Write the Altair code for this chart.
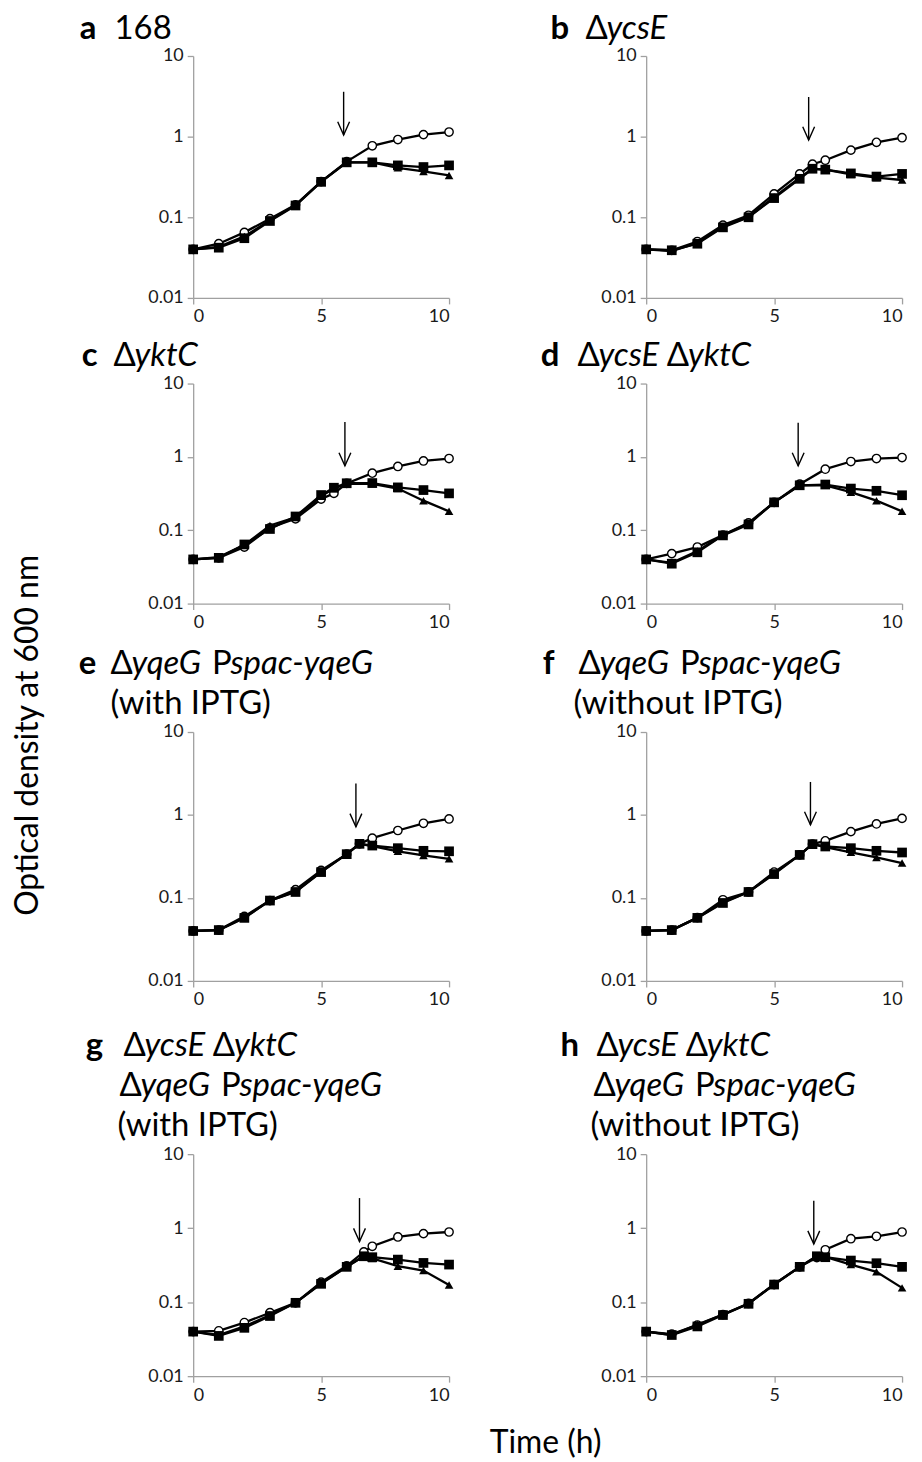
import altair as alt
import pandas as pd

# ---------------- data ----------------
t_a = [0, 1, 2, 3, 4, 5, 6, 7, 8, 9, 10]
open_a = [0.040, 0.047, 0.065, 0.096, 0.143, 0.277, 0.49, 0.77, 0.92, 1.06, 1.14]
sq_a = [0.040, 0.042, 0.055, 0.090, 0.140, 0.275, 0.48, 0.48, 0.44, 0.42, 0.44]
tri_a = [0.040, 0.043, 0.058, 0.092, 0.142, 0.277, 0.48, 0.48, 0.41, 0.37, 0.33]

t_b = [0, 1, 2, 3, 4, 5, 6, 6.5, 7, 8, 9, 10]
open_b = [0.040, 0.039, 0.050, 0.080, 0.106, 0.195, 0.345, 0.455, 0.51, 0.68, 0.85, 0.97]
sq_b = [0.040, 0.039, 0.047, 0.075, 0.100, 0.173, 0.30, 0.40, 0.39, 0.35, 0.32, 0.345]
tri_b = [0.040, 0.038, 0.048, 0.077, 0.101, 0.178, 0.31, 0.40, 0.39, 0.34, 0.31, 0.29]

t_c = [0, 1, 2, 3, 4, 5, 5.5, 6, 7, 8, 9, 10]
open_c = [0.040, 0.042, 0.059, 0.108, 0.143, 0.266, 0.318, 0.435, 0.60, 0.74, 0.88, 0.95]
sq_c = [0.040, 0.042, 0.064, 0.104, 0.154, 0.302, 0.38, 0.437, 0.44, 0.384, 0.353, 0.318]
tri_c = [0.040, 0.043, 0.063, 0.116, 0.150, 0.29, 0.37, 0.43, 0.43, 0.37, 0.253, 0.181]

t_d = [0, 1, 2, 3, 4, 5, 6, 7, 8, 9, 10]
open_d = [0.040, 0.048, 0.059, 0.086, 0.126, 0.24, 0.425, 0.68, 0.865, 0.95, 0.98]
sq_d = [0.040, 0.035, 0.050, 0.085, 0.120, 0.24, 0.41, 0.42, 0.37, 0.345, 0.30]
tri_d = [0.040, 0.036, 0.052, 0.086, 0.123, 0.24, 0.41, 0.41, 0.33, 0.253, 0.181]

t_e = [0, 1, 2, 3, 4, 5, 6, 6.5, 7, 8, 9, 10]
open_e = [0.040, 0.041, 0.060, 0.093, 0.126, 0.215, 0.337, 0.449, 0.525, 0.65, 0.794, 0.895]
sq_e = [0.040, 0.041, 0.0575, 0.093, 0.118, 0.205, 0.337, 0.449, 0.428, 0.398, 0.37, 0.365]
tri_e = [0.040, 0.041, 0.058, 0.093, 0.120, 0.207, 0.337, 0.449, 0.42, 0.365, 0.325, 0.296]

t_f = [0, 1, 2, 3, 4, 5, 6, 6.5, 7, 8, 9, 10]
open_f = [0.040, 0.041, 0.058, 0.095, 0.118, 0.205, 0.33, 0.445, 0.488, 0.63, 0.78, 0.91]
sq_f = [0.040, 0.041, 0.0575, 0.087, 0.118, 0.194, 0.33, 0.445, 0.417, 0.398, 0.37, 0.353]
tri_f = [0.040, 0.041, 0.0575, 0.089, 0.118, 0.198, 0.33, 0.445, 0.41, 0.355, 0.308, 0.263]

t_g = [0, 1, 2, 3, 4, 5, 6, 6.67, 7, 8, 9, 10]
open_g = [0.040, 0.041, 0.053, 0.072, 0.098, 0.186, 0.31, 0.478, 0.569, 0.76, 0.843, 0.887]
sq_g = [0.040, 0.035, 0.045, 0.065, 0.098, 0.177, 0.30, 0.417, 0.405, 0.376, 0.339, 0.322]
tri_g = [0.040, 0.036, 0.047, 0.067, 0.098, 0.18, 0.30, 0.42, 0.39, 0.306, 0.267, 0.17]

t_h = [0, 1, 2, 3, 4, 5, 6, 6.67, 7, 8, 9, 10]
open_h = [0.040, 0.037, 0.049, 0.068, 0.096, 0.173, 0.30, 0.40, 0.51, 0.72, 0.776, 0.887]
sq_h = [0.040, 0.036, 0.047, 0.067, 0.095, 0.173, 0.30, 0.417, 0.405, 0.365, 0.336, 0.30]
tri_h = [0.040, 0.036, 0.050, 0.068, 0.096, 0.175, 0.30, 0.42, 0.41, 0.322, 0.257, 0.156]

# arrows: time, top value, tip value
arrow_a = [5.88, 3.6, 1.05]
arrow_b = [6.35, 3.1, 0.91]
arrow_c = [5.93, 3.0, 0.755]
arrow_d = [5.94, 2.93, 0.755]
arrow_e = [6.36, 2.4, 0.72]
arrow_f = [6.42, 2.5, 0.76]
arrow_g = [6.5, 2.55, 0.66]
arrow_h = [6.55, 2.35, 0.61]

x_ticks = [0, 5, 10]
y_ticks = [0.01, 0.1, 1, 10]

y_title = "Optical density at 600 nm"
x_title = "Time (h)"

# ---------------- title layout ----------------
# per panel: panel letter (text, x, baseline) and lines (x start, baseline, segments)
# segment style: R = regular, I = italic, "_" = word gap
titles = {
    "a": (("a", -114, -17), [(-79, -17, [("168", "R")])]),
    "b": (("b", -96, -17), [(-61, -17, [("Δ", "R"), ("ycsE", "I")])]),
    "c": (("c", -112, -18), [(-80, -18, [("Δ", "R"), ("yktC", "I")])]),
    "d": (("d", -106, -18), [(-69, -18, [("Δ", "R"), ("ycsE", "I"), ("_", ""),
                                         ("Δ", "R"), ("yktC", "I")])]),
    "e": (("e", -115, -58), [(-83, -58, [("Δ", "R"), ("yqeG", "I"), ("_", ""),
                                         ("P", "R"), ("spac-yqeG", "I")]),
                             (-83, -18, [("(with IPTG)", "R")])]),
    "f": (("f", -104, -58), [(-68, -58, [("Δ", "R"), ("yqeG", "I"), ("_", ""),
                                         ("P", "R"), ("spac-yqeG", "I")]),
                             (-73, -18, [("(without IPTG)", "R")])]),
    "g": (("g", -108, -99), [(-70, -99, [("Δ", "R"), ("ycsE", "I"), ("_", ""),
                                         ("Δ", "R"), ("yktC", "I")]),
                             (-74, -58, [("Δ", "R"), ("yqeG", "I"), ("_", ""),
                                         ("P", "R"), ("spac-yqeG", "I")]),
                             (-76, -18, [("(with IPTG)", "R")])]),
    "h": (("h", -86, -99), [(-50, -99, [("Δ", "R"), ("ycsE", "I"), ("_", ""),
                                        ("Δ", "R"), ("yktC", "I")]),
                            (-53, -58, [("Δ", "R"), ("yqeG", "I"), ("_", ""),
                                        ("P", "R"), ("spac-yqeG", "I")]),
                            (-56, -18, [("(without IPTG)", "R")])]),
}

FONT = "Lato"
TFS = 33          # title font size
W = 257
row_heights = [243, 221, 250, 223]
row_top_room = [44, 47, 90, 135]   # space kept above each row's plot area

# approximate Lato advance widths (em)
REG = {"Δ": .64, "P": .56, "(": .29, ")": .29, "w": .74, "i": .22, "t": .33, "h": .53,
       "o": .53, "u": .53, "I": .26, "T": .55, "G": .68, " ": .19}
ITA = {"y": .47, "c": .43, "s": .38, "E": .52, "k": .47, "t": .33, "C": .64, "q": .53,
       "e": .49, "G": .68, "p": .53, "a": .49, "-": .33}


def seg_width(s, style):
    table = ITA if style == "I" else REG
    return sum(table.get(ch, .5) for ch in s) * TFS


one = pd.DataFrame({"k": [0]})


def text_piece(s, px, py, style, size=TFS, angle=0, align="left", baseline="alphabetic"):
    kw = dict(font=FONT, fontSize=size, color="black", align=align, baseline=baseline)
    if style == "B":
        kw["fontWeight"] = "bold"
    if style == "I":
        kw["fontStyle"] = "italic"
    if angle:
        kw["angle"] = angle
    return alt.Chart(one).mark_text(**kw).encode(
        x=alt.value(px), y=alt.value(py), text=alt.value(s))


def title_layers(key):
    (letter, lx, ly), lines = titles[key]
    out = [text_piece(letter, lx, ly, "B")]
    for x0, by, segs in lines:
        xc = x0
        for s, st in segs:
            if s == "_":
                xc += 0.28 * TFS
                continue
            out.append(text_piece(s, xc, by, st))
            xc += seg_width(s, st)
    return out


def axis(vals, fmt):
    return alt.Axis(values=vals, format=fmt, grid=False, title=None,
                    domainColor="#a0a0a0", tickColor="#a0a0a0", domainWidth=1.3,
                    tickWidth=1.3, tickSize=6, labelFont=FONT, labelFontSize=18,
                    labelColor="#1a1a1a", labelPadding=4)


def panel(key, times, opn, sq, tri, arrow, h, room, extra=()):
    n = len(times)
    df = pd.DataFrame({
        "t": times * 3,
        "v": opn + sq + tri,
        "s": ["open"] * n + ["square"] * n + ["tri"] * n,
    })
    x = alt.X("t:Q", scale=alt.Scale(domain=[0, 10], nice=False, zero=False),
              axis=axis(x_ticks, "d"))
    y = alt.Y("v:Q", scale=alt.Scale(type="log", domain=[0.01, 10], nice=False),
              axis=axis(y_ticks, "~g"))
    base = alt.Chart(df)
    lines = base.mark_line(color="black", strokeWidth=2.3).encode(x=x, y=y, detail="s:N")
    circ = base.transform_filter(alt.datum.s == "open").mark_point(
        shape="circle", filled=True, fill="white", stroke="black", strokeWidth=1.4,
        size=70, opacity=1).encode(x=x, y=y)
    trip = base.transform_filter(alt.datum.s == "tri").mark_point(
        shape="triangle-up", filled=True, color="black", size=75, opacity=1).encode(x=x, y=y)
    sqp = base.transform_filter(alt.datum.s == "square").mark_point(
        shape="square", filled=True, color="black", size=95, opacity=1).encode(x=x, y=y)
    adf = pd.DataFrame({"t": [arrow[0]], "v": [arrow[1]], "v2": [arrow[2]]})
    arule = alt.Chart(adf).mark_rule(color="black", strokeWidth=1.4).encode(
        x="t:Q", y="v:Q", y2="v2:Q")
    ahead = alt.Chart(adf).mark_point(
        shape="M-0.45,-1L0,0L0.45,-1", filled=False, color="black", strokeWidth=1.4,
        size=700, opacity=1).encode(x="t:Q", y=alt.Y("v2:Q"))
    # invisible spacer that fixes the room above the plot area
    spacer = alt.Chart(one).mark_rule(color="white", strokeWidth=0.5).encode(
        x=alt.value(W - 2), x2=alt.value(W - 1), y=alt.value(-room), y2=alt.value(-room + 1))
    layers = [lines, circ, trip, sqp, arule, ahead, spacer] + title_layers(key)
    layers.extend(extra)
    return alt.layer(*layers).properties(width=W, height=h)


xtitle = text_piece(x_title, -101, 290, "R", size=32, align="center", baseline="middle")

panels = [
    panel("a", t_a, open_a, sq_a, tri_a, arrow_a, row_heights[0], row_top_room[0]),
    panel("b", t_b, open_b, sq_b, tri_b, arrow_b, row_heights[0], row_top_room[0]),
    panel("c", t_c, open_c, sq_c, tri_c, arrow_c, row_heights[1], row_top_room[1]),
    panel("d", t_d, open_d, sq_d, tri_d, arrow_d, row_heights[1], row_top_room[1]),
    panel("e", t_e, open_e, sq_e, tri_e, arrow_e, row_heights[2], row_top_room[2]),
    panel("f", t_f, open_f, sq_f, tri_f, arrow_f, row_heights[2], row_top_room[2]),
    panel("g", t_g, open_g, sq_g, tri_g, arrow_g, row_heights[3], row_top_room[3]),
    panel("h", t_h, open_h, sq_h, tri_h, arrow_h, row_heights[3], row_top_room[3],
          extra=[xtitle]),
]

chart = alt.concat(
    *panels, columns=2, spacing={"row": 10, "column": 33}, align="each",
    title=alt.TitleParams(y_title, orient="left", anchor="middle", font=FONT,
                          fontSize=32, fontWeight="normal", color="black", offset=34),
).configure_view(strokeWidth=0).properties(
    background="white", padding={"left": 3, "top": 0, "right": 5, "bottom": 0})

chart.save("out.html", embed_options={"renderer": "svg", "actions": False})
